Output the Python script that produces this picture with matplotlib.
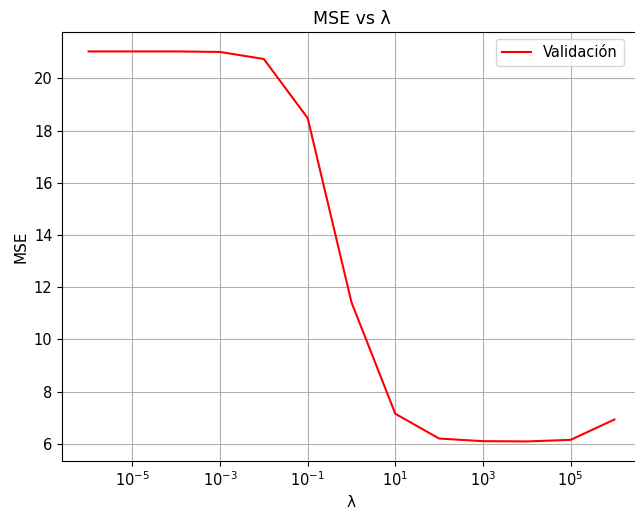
import numpy as np
import matplotlib
matplotlib.use("Agg")
import matplotlib.pyplot as plt

# valores de lambda y MSE de validacion
lambdas = [1e-6, 1e-5, 1e-4, 1e-3, 1e-2, 1e-1, 1e0, 1e1, 1e2, 1e3, 1e4, 1e5, 1e6]
mse_val = [21.03, 21.03, 21.03, 21.01, 20.74, 18.48, 11.42, 7.15, 6.2, 6.1, 6.09, 6.15, 6.93]

fig, ax = plt.subplots(figsize=(6.35, 5.15), dpi=100)
ax.plot(lambdas, mse_val, color='red', label='Validación')
ax.set_xscale('log')
ax.set_xlabel('λ', fontsize=11)
ax.set_ylabel('MSE', fontsize=11)
ax.set_title('MSE vs λ', fontsize=12.5)
ax.tick_params(labelsize=10.5)
ax.grid(True)
ax.legend(loc='upper right', fontsize=10.5, bbox_to_anchor=(0.983, 1.0))
# la imagen original esta recortada por la derecha
fig.subplots_adjust(left=0.098, right=1.009, top=0.938, bottom=0.105)
fig.savefig('out.png')
